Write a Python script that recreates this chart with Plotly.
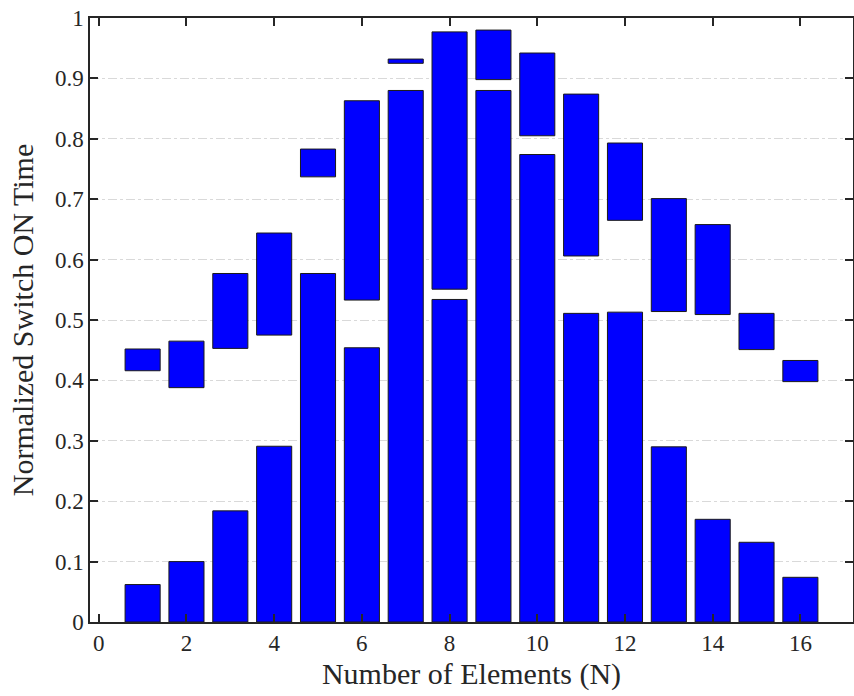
import plotly.graph_objects as go

# Element index and switch ON-time intervals (normalized)
elements = list(range(1, 17))
lower_top = [0.062, 0.100, 0.184, 0.291, 0.577, 0.454, 0.880, 0.534,
             0.880, 0.774, 0.511, 0.513, 0.290, 0.170, 0.132, 0.074]
upper_bottom = [0.416, 0.388, 0.453, 0.475, 0.737, 0.533, 0.925, 0.551,
                0.898, 0.805, 0.606, 0.665, 0.514, 0.509, 0.451, 0.398]
upper_top = [0.452, 0.465, 0.577, 0.644, 0.783, 0.863, 0.932, 0.977,
             0.980, 0.942, 0.874, 0.793, 0.701, 0.658, 0.511, 0.433]

x_ticks = list(range(0, 17, 2))
y_ticks = [i / 10 for i in range(11)]
y_tick_text = ["0", "0.1", "0.2", "0.3", "0.4", "0.5", "0.6", "0.7", "0.8", "0.9", "1"]

FONT = "Liberation Serif"
INK = "#262626"
bar_style = dict(color="#0000ff", line=dict(color="#1a1a1a", width=1))

fig = go.Figure()
fig.add_trace(go.Bar(x=elements, y=lower_top, base=[0] * len(elements),
                     width=0.8, marker=bar_style, showlegend=False))
fig.add_trace(go.Bar(x=elements,
                     y=[t - b for t, b in zip(upper_top, upper_bottom)],
                     base=upper_bottom, width=0.8, marker=bar_style,
                     showlegend=False))

fig.update_layout(
    width=854, height=696,
    margin=dict(l=90, r=1, t=18, b=74),
    paper_bgcolor="white", plot_bgcolor="white",
    barmode="overlay",
    font=dict(family=FONT, color=INK, size=23),
)
fig.update_xaxes(
    range=[-0.2, 17.2], tickvals=x_ticks, ticks="inside", ticklen=8, tickwidth=1.5,
    tickcolor=INK, showline=True, linecolor=INK, linewidth=1.5, mirror="ticks",
    showgrid=False, zeroline=False, automargin=False,
    tickfont=dict(size=23, family=FONT, color=INK),
    title=dict(text="Number of Elements (N)", font=dict(size=30, family=FONT, color=INK),
               standoff=8),
)
fig.update_yaxes(
    range=[0, 1], tickvals=y_ticks, ticktext=y_tick_text, ticks="inside", ticklen=8,
    tickwidth=1.5, tickcolor=INK, showline=True, linecolor=INK, linewidth=1.5,
    mirror="ticks", showgrid=True, gridcolor="#d9d9d9", gridwidth=1,
    griddash="dashdot", zeroline=False, automargin=False,
    tickfont=dict(size=23, family=FONT, color=INK),
    title=dict(text="Normalized Switch ON Time", font=dict(size=30, family=FONT, color=INK),
               standoff=12),
)

fig.write_html("out.html")
